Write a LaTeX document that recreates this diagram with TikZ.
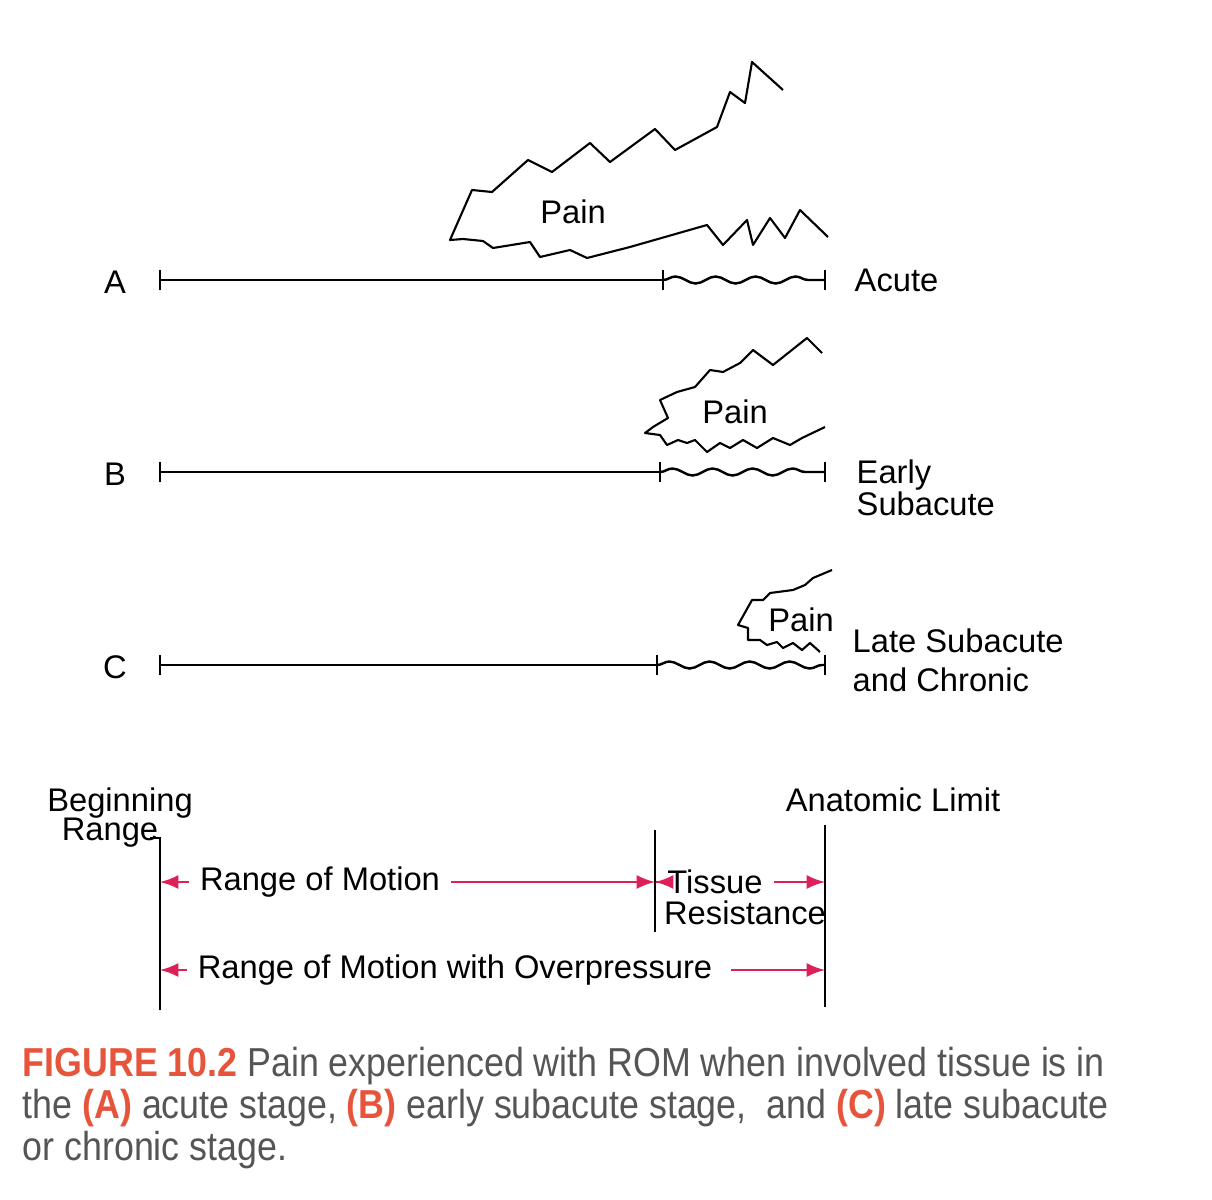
\documentclass[tikz,border=0pt]{standalone}
\usepackage{fontspec}
\setmainfont{Liberation Sans}
\newfontfamily\capfont[FakeStretch=0.885]{Liberation Sans}
\usetikzlibrary{arrows,decorations.pathmorphing}
\definecolor{romred}{RGB}{222,32,88}
\definecolor{figred}{RGB}{230,84,60}
\definecolor{capgray}{RGB}{85,85,85}
\tikzset{lb/.append style={font=\fontsize{9.3}{11}\selectfont, inner sep=0pt}}
\tikzset{rl/.append style={line width=0.7pt}}
\tikzset{wv/.append style={line width=0.7pt, decorate, decoration={snake, amplitude=0.35mm, segment length=4mm}}}
\tikzset{pn/.append style={line width=0.6pt, line join=round}}
\tikzset{ra/.append style={romred, line width=0.8pt}}
\tikzset{gp/.append style={inner xsep=3pt}}

\begin{document}
\begin{tikzpicture}[x=0.01cm,y=-0.01cm]
\useasboundingbox (0,0) rectangle (1212,1200);
% range lines A, B, C
\foreach \n/\y/\m in {a/280/663, b/472/660, c/665/657}{
  \coordinate (\n0) at (160,\y);
  \coordinate (\n1) at (\m,\y);
  \coordinate (\n2) at (825,\y);
  \draw[rl] (\n0) -- (\n1);
  \draw[wv] (\n1) -- (\n2);
  \foreach \k in {0,1,2} \draw[rl] ([yshift=1mm]\n\k) -- ([yshift=-1mm]\n\k);
}
\node[lb] (la) at (115,282) {A};
\node[lb] (lbb) at (115,474) {B};
\node[lb] (lc) at (115,667) {C};
\node[lb,anchor=west] (acute) at (854,280) {Acute};
\node[lb,anchor=west,align=left] (early) at (856,488) {Early\\[-2pt]Subacute};
\node[lb,anchor=west,align=left] (late) at (852,660) {Late Subacute\\and Chronic};
% pain areas
\draw[pn] (783,90) -- (752,62) -- (745,103) -- (730,92) -- (717,127) -- (675,150) -- (655,129) -- (610,162) -- (590,143) -- (552,172) -- (528,160) -- (492,192) -- (472,190) -- (450,240) -- (463,239) -- (483,241) -- (493,248) -- (530,242) -- (540,257) -- (570,250) -- (587,258) -- (630,247) -- (707,225) -- (723,245) -- (747,220) -- (753,245) -- (770,218) -- (785,238) -- (800,210) -- (828,237);
\node[lb] (pa) at (573,212) {Pain};
\draw[pn] (822,353) -- (807,338) -- (773,365) -- (753,350) -- (740,363) -- (723,372) -- (710,370) -- (695,387) -- (677,392) -- (660,400) -- (668,418) -- (653,427) -- (645,433) -- (660,435) -- (667,445) -- (678,440) -- (687,443) -- (695,440) -- (707,452) -- (720,443) -- (730,448) -- (743,440) -- (757,448) -- (773,438) -- (790,445) -- (802,438) -- (825,427);
\node[lb] (pb) at (735,412) {Pain};
\draw[pn] (832,570) -- (813,578) -- (805,585) -- (793,590) -- (770,593) -- (763,600) -- (752,600) -- (738,625) -- (748,628) -- (748,640) -- (760,640) -- (767,645) -- (777,642) -- (783,648) -- (793,643) -- (802,650) -- (810,643) -- (820,652);
\node[lb] (pc) at (801,620) {Pain};
% range of motion
\coordinate (bt) at (150,838);
\coordinate (bb) at (160,1010);
\coordinate (mt) at (655,830);
\coordinate (mb) at (655,932);
\coordinate (et) at (825,825);
\coordinate (eb) at (825,1007);
\draw[rl] (bt) -| (bb);
\draw[rl] (mt) -- (mb);
\draw[rl] (et) -- (eb);
\node[lb] (beg) at (120,803) {Beginning};
\node[lb] (rng) at (110,833) {Range};
\node[lb] (anl) at (893,800) {Anatomic Limit};
\node[lb,gp] (rom) at (320,882) {Range of Motion};
\node[lb,gp] (tis) at (715,882) {Tissue};
\node[lb] (res) at (745,913) {Resistance};
\node[lb,gp] (rmo) at (455,970) {Range of Motion with Overpressure};
\coordinate (r1) at (160,882);
\coordinate (r2) at (655,882);
\coordinate (r3) at (825,882);
\coordinate (s1) at (160,970);
\coordinate (s3) at (825,970);
\draw[ra,latex-] (r1) -- (rom);
\draw[ra,-latex] (rom) -- (r2);
\draw[ra,latex-] (r2) -- (tis);
\draw[ra,-latex] (tis) -- (r3);
\draw[ra,latex-] (s1) -- (rmo);
\draw[ra,-latex,shorten <=2pt] (rmo) -- (s3);
% caption
\node[anchor=north west, inner sep=0pt, align=left, text=capgray, font=\capfont\fontsize{11.5}{12}\selectfont] (cap) at (22,1046) {\textcolor{figred}{\textbf{FIGURE 10.2}} Pain experienced with ROM when involved tissue is in\\the \textcolor{figred}{\textbf{(A)}} acute stage, \textcolor{figred}{\textbf{(B)}} early subacute stage,\ \ and \textcolor{figred}{\textbf{(C)}} late subacute\\or chronic stage.};
\end{tikzpicture}
\end{document}
